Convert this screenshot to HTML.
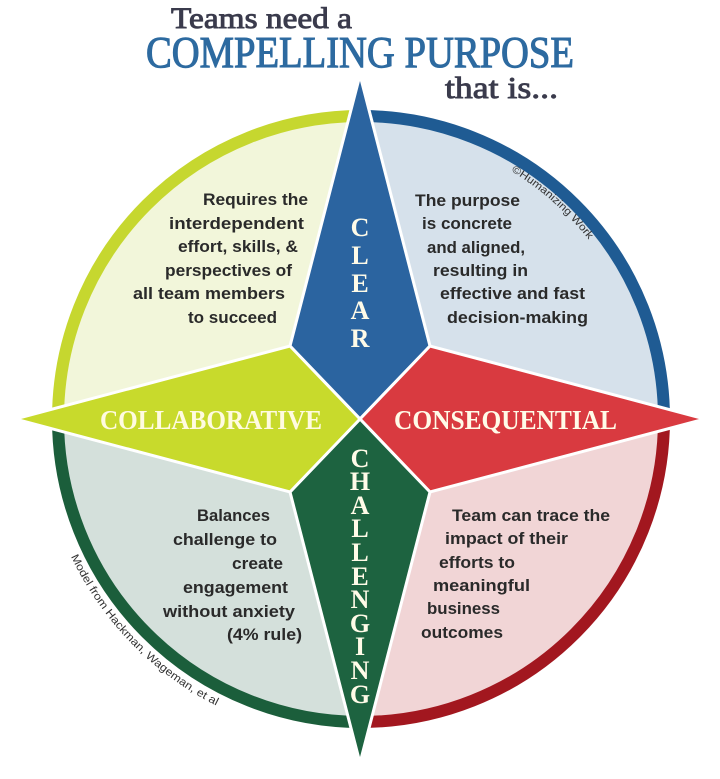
<!DOCTYPE html>
<html>
<head>
<meta charset="utf-8">
<style>
html,body{margin:0;padding:0;background:#fff;}
svg{display:block;}
.b{font-family:"Liberation Sans",sans-serif;font-weight:bold;font-size:17px;fill:#2a2a2a;}
.s{font-family:"Liberation Serif",serif;font-weight:bold;font-size:26px;fill:#fffbe8;text-anchor:middle;}
</style>
</head>
<body>
<svg width="720" height="779" viewBox="0 0 720 779" xmlns="http://www.w3.org/2000/svg">
  <!-- Title -->
  <text x="171" y="28" font-family="Liberation Serif, serif" font-size="30" fill="#3a3b4c" stroke="#3a3b4c" stroke-width="0.9" textLength="181" lengthAdjust="spacingAndGlyphs">Teams need a</text>
  <text x="146" y="67" font-family="Liberation Serif, serif" font-size="44" fill="#2d6aa0" stroke="#2d6aa0" stroke-width="1.1" textLength="428" lengthAdjust="spacingAndGlyphs">COMPELLING PURPOSE</text>
  <text x="445" y="98" font-family="Liberation Serif, serif" font-size="31" fill="#3a3b4c" stroke="#3a3b4c" stroke-width="0.9" textLength="113" lengthAdjust="spacingAndGlyphs">that is...</text>

  <!-- Quadrant fills -->
  <path d="M361,419 L58,419 A303,303 0 0 1 361,116 Z" fill="#f2f6da"/>
  <path d="M361,419 L361,116 A303,303 0 0 1 664,419 Z" fill="#d6e1eb"/>
  <path d="M361,419 L664,419 A303,303 0 0 1 361,722 Z" fill="#f1d5d6"/>
  <path d="M361,419 L361,722 A303,303 0 0 1 58,419 Z" fill="#d4e0db"/>

  <!-- Rings -->
  <g fill="none" stroke-width="12">
    <path d="M58,419 A303,303 0 0 1 361,116" stroke="#c6d72f"/>
    <path d="M361,116 A303,303 0 0 1 664,419" stroke="#1f5b93"/>
    <path d="M664,419 A303,303 0 0 1 361,722" stroke="#a2171f"/>
    <path d="M361,722 A303,303 0 0 1 58,419" stroke="#1b5e3b"/>
  </g>

  <!-- Star arms -->
  <g stroke="#ffffff" stroke-width="3" stroke-linejoin="miter" stroke-miterlimit="12">
    <polygon points="360,75 430,346 360,419 290,346" fill="#2b64a0"/>
    <polygon points="705,419 430,492 360,419 430,346" fill="#d93a40"/>
    <polygon points="360,763 290,492 360,419 430,492" fill="#1d6340"/>
    <polygon points="15,419 290,346 360,419 290,492" fill="#c8da2c"/>
  </g>

  <!-- CLEAR -->
  <text class="s" x="360" y="236">C</text>
  <text class="s" x="360" y="264">L</text>
  <text class="s" x="360" y="292">E</text>
  <text class="s" x="360" y="319">A</text>
  <text class="s" x="360" y="347">R</text>

  <!-- CHALLENGING -->
  <text class="s" x="360" y="467">C</text>
  <text class="s" x="360" y="490">H</text>
  <text class="s" x="360" y="514">A</text>
  <text class="s" x="360" y="537">L</text>
  <text class="s" x="360" y="561">L</text>
  <text class="s" x="360" y="585">E</text>
  <text class="s" x="360" y="608">N</text>
  <text class="s" x="360" y="632">G</text>
  <text class="s" x="360" y="655">I</text>
  <text class="s" x="360" y="679">N</text>
  <text class="s" x="360" y="703">G</text>

  <!-- Horizontal labels -->
  <text x="100" y="429" font-family="Liberation Serif, serif" font-weight="bold" font-size="27" fill="#fffbe0" textLength="222" lengthAdjust="spacingAndGlyphs">COLLABORATIVE</text>
  <text x="394" y="429" font-family="Liberation Serif, serif" font-weight="bold" font-size="27" fill="#fffbe8" textLength="223" lengthAdjust="spacingAndGlyphs">CONSEQUENTIAL</text>

  <!-- Top-left text -->
  <text class="b" x="203" y="205" textLength="105" lengthAdjust="spacingAndGlyphs">Requires the</text>
  <text class="b" x="169" y="229" textLength="135" lengthAdjust="spacingAndGlyphs">interdependent</text>
  <text class="b" x="178" y="252" textLength="120" lengthAdjust="spacingAndGlyphs">effort, skills, &amp;</text>
  <text class="b" x="165" y="276" textLength="127" lengthAdjust="spacingAndGlyphs">perspectives of</text>
  <text class="b" x="133" y="299" textLength="152" lengthAdjust="spacingAndGlyphs">all team members</text>
  <text class="b" x="188" y="323" textLength="89" lengthAdjust="spacingAndGlyphs">to succeed</text>

  <!-- Top-right text -->
  <text class="b" x="415" y="206" textLength="105" lengthAdjust="spacingAndGlyphs">The purpose</text>
  <text class="b" x="422" y="229" textLength="90" lengthAdjust="spacingAndGlyphs">is concrete</text>
  <text class="b" x="427" y="253" textLength="98" lengthAdjust="spacingAndGlyphs">and aligned,</text>
  <text class="b" x="433" y="276" textLength="95" lengthAdjust="spacingAndGlyphs">resulting in</text>
  <text class="b" x="440" y="299" textLength="145" lengthAdjust="spacingAndGlyphs">effective and fast</text>
  <text class="b" x="447" y="323" textLength="141" lengthAdjust="spacingAndGlyphs">decision-making</text>

  <!-- Bottom-left text -->
  <text class="b" x="197" y="521" textLength="73" lengthAdjust="spacingAndGlyphs">Balances</text>
  <text class="b" x="173" y="545" textLength="104" lengthAdjust="spacingAndGlyphs">challenge to</text>
  <text class="b" x="232" y="569" textLength="51" lengthAdjust="spacingAndGlyphs">create</text>
  <text class="b" x="183" y="593" textLength="105" lengthAdjust="spacingAndGlyphs">engagement</text>
  <text class="b" x="163" y="617" textLength="132" lengthAdjust="spacingAndGlyphs">without anxiety</text>
  <text class="b" x="227" y="640" textLength="75" lengthAdjust="spacingAndGlyphs">(4% rule)</text>

  <!-- Bottom-right text -->
  <text class="b" x="452" y="521" textLength="158" lengthAdjust="spacingAndGlyphs">Team can trace the</text>
  <text class="b" x="445" y="544" textLength="123" lengthAdjust="spacingAndGlyphs">impact of their</text>
  <text class="b" x="439" y="568" textLength="76" lengthAdjust="spacingAndGlyphs">efforts to</text>
  <text class="b" x="433" y="591" textLength="97" lengthAdjust="spacingAndGlyphs">meaningful</text>
  <text class="b" x="427" y="614" textLength="73" lengthAdjust="spacingAndGlyphs">business</text>
  <text class="b" x="421" y="638" textLength="82" lengthAdjust="spacingAndGlyphs">outcomes</text>

  <!-- Curved small texts -->
  <defs>
    <path id="arcHW" d="M506,168 A290,290 0 0 1 612,274"/>
    <path id="arcModel" d="M59.4,528.8 A321,321 0 0 0 251.2,720.7"/>
  </defs>
  <text font-family="Liberation Sans, sans-serif" font-size="10.5" fill="#333">
    <textPath href="#arcHW" startOffset="6" textLength="104" lengthAdjust="spacingAndGlyphs">©Humanizing Work</textPath>
  </text>
  <text font-family="Liberation Sans, sans-serif" font-size="11" fill="#333">
    <textPath href="#arcModel" startOffset="30" textLength="212" lengthAdjust="spacingAndGlyphs">Model from Hackman, Wageman, et al</textPath>
  </text>
</svg>
</body>
</html>
